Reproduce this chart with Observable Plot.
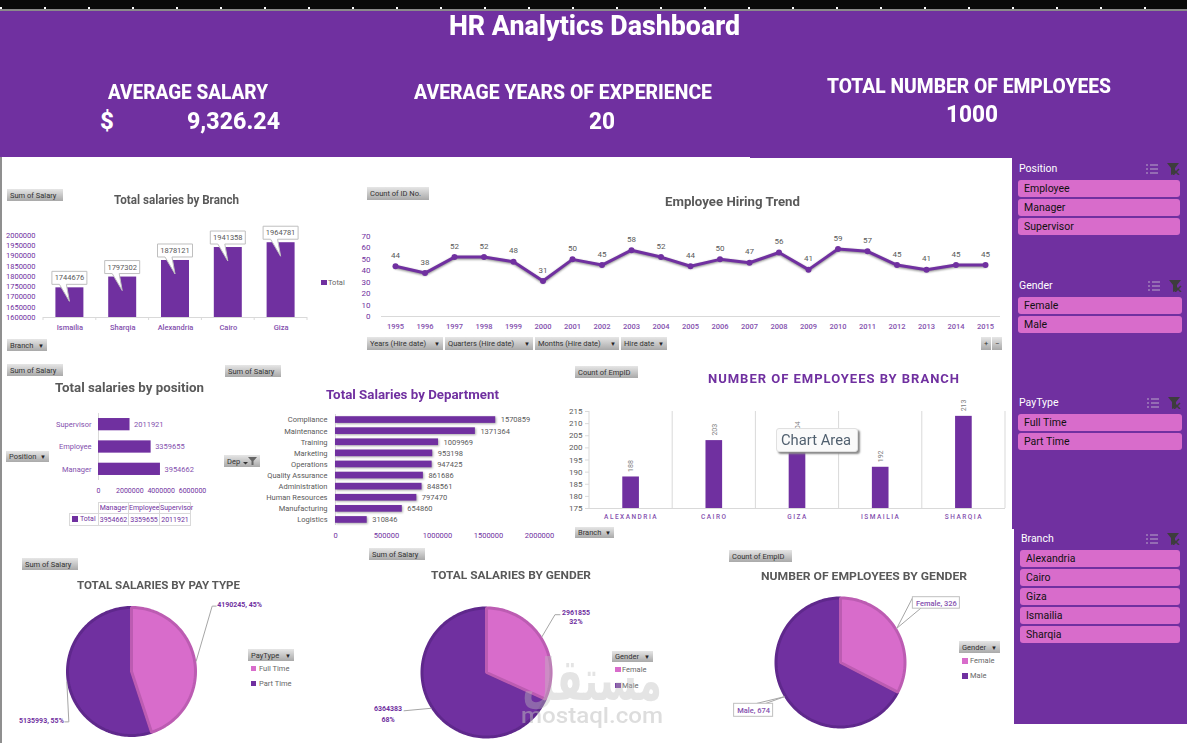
<!DOCTYPE html>
<html><head><meta charset="utf-8">
<script src="https://cdn.jsdelivr.net/npm/d3@7"></script>
<script src="https://cdn.jsdelivr.net/npm/@observablehq/plot@0.6"></script>
<style>
html,body{margin:0;padding:0;background:#fff;}
#page{position:relative;width:1187px;height:743px;overflow:hidden;background:#fff;font-family:Roboto,sans-serif;}
#page>div{position:absolute;}
.t{white-space:nowrap;line-height:1;transform-origin:0 0;}
.btn{background:linear-gradient(#e6e6e6,#a9a9a9);color:#333;font-size:7.5px;display:flex;align-items:center;box-sizing:border-box;padding-left:3px;white-space:nowrap;}
.btn i{font-style:normal;font-size:6px;position:absolute;right:3px;color:#222;}
.sl{background:#D86CCB;border-radius:3px;color:#111;font-size:10.5px;display:flex;align-items:center;box-sizing:border-box;padding-left:6px;}
.cell{border:1px solid #d9d9d9;box-sizing:border-box;color:#7030A0;font-size:7px;text-align:center;white-space:nowrap;overflow:visible;}
svg text{font-family:Roboto,sans-serif;}
</style></head><body><div id="page"></div>
<script>
const PURPLE="#7030A0", PINK="#D86CCB", GRAYT="#595959", AXIS="#d9d9d9", TICKP="#8450AE";
const branchNames=["Ismailia","Sharqia","Alexandria","Cairo","Giza"];
const branchSalaries=[1744676,1797302,1878121,1941358,1964781];
const hireYears=[1995,1996,1997,1998,1999,2000,2001,2002,2003,2004,2005,2006,2007,2008,2009,2010,2011,2012,2013,2014,2015];
const hireCounts=[44,38,52,52,48,31,50,45,58,52,44,50,47,56,41,59,57,45,41,45,45];
const positionNames=["Supervisor","Employee","Manager"];
const positionSalaries=[2011921,3359655,3954662];
const deptNames=["Compliance","Maintenance","Training","Marketing","Operations","Quality Assurance","Administration","Human Resources","Manufacturing","Logistics"];
const deptSalaries=[1570859,1371364,1009969,953198,947425,861686,848561,797470,654860,310846];
const empBranchNames=["Alexandria","Cairo","Giza","Ismailia","Sharqia"];
const empBranchCounts=[188,203,204,192,213];
const payTypes=["Full Time","Part Time"];
const paySalaries=[4190245,5135993];
const genders=["Female","Male"];
const genderSalaries=[2961855,6364383];
const genderCounts=[326,674];
const slicerPosition=["Employee","Manager","Supervisor"];
const slicerGender=["Female","Male"];
const slicerPay=["Full Time","Part Time"];
const slicerBranch=["Alexandria","Cairo","Giza","Ismailia","Sharqia"];

const page=document.getElementById("page");
function box(x0,y0,x1,y1,css=""){const d=document.createElement("div");d.style.cssText=`left:${x0}px;top:${y0}px;width:${x1-x0}px;height:${y1-y0}px;${css}`;page.appendChild(d);return d;}
function T(x,y,s,o={}){
  const d=document.createElement("div");d.className="t";d.textContent=s;
  d.style.fontSize=(o.size||8)+"px";d.style.color=o.color||"#000";d.style.fontWeight=o.weight||400;
  if(o.ls)d.style.letterSpacing=o.ls+"px"; if(o.font)d.style.fontFamily=o.font; if(o.opacity)d.style.opacity=o.opacity;
  page.appendChild(d);
  const r=d.getBoundingClientRect();const k=o.w?o.w/r.width:1;
  const f=o.anchor==="start"?0:o.anchor==="end"?1:0.5;
  d.style.left=(x-r.width*k*f)+"px";d.style.top=(y-r.height/2)+"px";
  if(k!==1)d.style.transform=`scaleX(${k})`;
  return d;
}
function B(x0,y0,x1,y1,s,arrow){const d=box(x0,y0,x1,y1);d.className="btn";d.textContent=s;if(arrow){const i=document.createElement("i");i.textContent="▼";d.appendChild(i);}return d;}
function P(area,pad,opts){
  const [x0,y0,x1,y1]=area,[l,t,r,b]=pad;
  const p=Plot.plot({width:x1-x0+l+r,height:y1-y0+t+b,marginLeft:l,marginTop:t,marginRight:r,marginBottom:b,
    style:{background:"transparent",overflow:"visible",fontFamily:"Roboto,sans-serif",maxWidth:"none"},...opts});
  const d=box(x0-l,y0-t,x1+r,y1+b);d.appendChild(p);return p;
}
function shadow(p,label,f){p.querySelectorAll(`[aria-label="${label}"]`).forEach(e=>e.style.filter=f);}
function separators(cats,top,bottom,color){return (i,{x,y})=>{
  const g=d3.create("svg:g").attr("stroke",color);
  const step=x.bandwidth()+ (cats.length>1?x(cats[1])-x(cats[0])-x.bandwidth():0);
  const off=(step-x.bandwidth())/2;
  [...cats.map(c=>x(c)-off),x(cats[cats.length-1])+x.bandwidth()+off].forEach(v=>g.append("line").attr("x1",v).attr("x2",v).attr("y1",y(top)).attr("y2",y(bottom)));
  return g.node();};}

// ---------- banner ----------
box(0,0,1187,9,"background:repeating-linear-gradient(90deg,#fff 0,#fff 2px,#0a0a0a 2px,#0a0a0a 44px);background-size:100% 2px;background-repeat:no-repeat;background-position:0 7px;background-color:#0a0a0a");
box(0,9,1187,11,"background:#8a8a8a");
box(0,11,750,157,`background:${PURPLE}`);
box(750,11,1187,158,`background:${PURPLE}`);
box(0,157,2,743,"background:#8f8f8f");
T(594,26,"HR Analytics Dashboard",{size:27,color:"#fff",weight:800,w:291});
T(188,92,"AVERAGE SALARY",{size:21,color:"#fff",weight:800,w:160});
T(107,121,"$",{size:24,color:"#fff",weight:800});
T(233.5,121,"9,326.24",{size:24,color:"#fff",weight:800,w:93});
T(563,92,"AVERAGE YEARS OF EXPERIENCE",{size:21,color:"#fff",weight:800,w:298});
T(602,121,"20",{size:24,color:"#fff",weight:800,w:26});
T(969,86,"TOTAL NUMBER OF EMPLOYEES",{size:21,color:"#fff",weight:800,w:284});
T(972,114,"1000",{size:24,color:"#fff",weight:800,w:52});

// ---------- sidebar ----------
box(1012,157,1187,529,`background:${PURPLE}`);
box(1014,529,1187,724,`background:${PURPLE}`);
function icons(x,y){
  const d=box(x,y,x+36,y+12);
  d.innerHTML=`<svg width="36" height="12" style="display:block"><g stroke="#b9a8c8" stroke-width="1"><path d="M5 2H13M5 6H13M5 10H13"/><path d="M1 2h2M1 6h2M1 10h2"/></g><g fill="#3d3d3d"><path d="M22 0h12l-4 5v5l-4 2V5z"/></g><path d="M28 6l6 6M34 6l-6 6" stroke="#3d3d3d" stroke-width="1.5"/></svg>`;
}
function slicer(title,items,hy,x0,x1,y0,tx,ix){
  T(tx,hy+1,title,{size:10.5,color:"#fff",anchor:"start"});
  icons(ix,hy-5);
  items.forEach((s,i)=>{const d=box(x0,y0+i*19,x1,y0+i*19+17);d.className="sl";d.textContent=s;});
}
slicer("Position",slicerPosition,168,1018,1180,180,1019,1145);
slicer("Gender",slicerGender,285,1018,1182,297,1019,1147);
slicer("PayType",slicerPay,402,1018,1182,414,1019,1146);
slicer("Branch",slicerBranch,538,1020,1180,550,1021,1145);

// ---------- salaries by branch ----------
B(7,189,63,201,"Sum of Salary");
B(7,339,47,351,"Branch",true);
T(176,200,"Total salaries by Branch",{size:12,color:GRAYT,weight:700,w:125});
box(321,280,327,285,`background:${PURPLE}`);
T(328,282.5,"Total",{size:7.5,color:"#666",anchor:"start"});
const branchData=branchNames.map((b,i)=>({b,v:branchSalaries[i]}));
P([43,235,307,317],[43,6,6,20],{
  x:{domain:branchNames,paddingInner:.47,paddingOuter:.235,round:false,axis:null},
  y:{domain:[1600000,2000000],axis:null},
  marks:[
    Plot.axisY({ticks:d3.range(1600000,2000001,50000),tickFormat:"d",tickSize:0,tickPadding:8,fontSize:7.5,fill:PURPLE,label:null}),
    Plot.axisX({tickSize:0,tickPadding:7,fontSize:7.5,fontWeight:500,fill:TICKP,label:null}),
    Plot.barY(branchData,{x:"b",y1:1600000,y2:"v",fill:PURPLE}),
    Plot.ruleY([1600000],{stroke:AXIS}),
    (i,{x,y})=>{
      const g=d3.create("svg:g");
      branchData.forEach(d=>{
        const c=x(d.b)+x.bandwidth()/2,t=y(d.v);
        const l=c-17.5,r=c+17.5,b=t-3,u=b-13;
        g.append("path").attr("d",`M${l} ${u}H${r}V${b}H${c-3}L${c} ${t+14}L${c-10} ${b}H${l}Z`).attr("fill","#fff").attr("stroke","#bfbfbf").attr("stroke-width",1);
        g.append("text").attr("x",c).attr("y",b-4).attr("text-anchor","middle").attr("font-size",7.5).attr("fill",GRAYT).text(d.v);
      });
      return g.node();
    },
    (i,{x,y})=>{const g=d3.create("svg:g").attr("stroke",AXIS);const st=x(branchNames[1])-x(branchNames[0]),o=(st-x.bandwidth())/2;
      d3.range(branchNames.length).forEach(k=>g.append("line").attr("x1",x(branchNames[k])-o).attr("x2",x(branchNames[k])-o).attr("y1",y(1600000)).attr("y2",y(1600000)+3));
      const e=x(branchNames[4])+x.bandwidth()+o;g.append("line").attr("x1",e).attr("x2",e).attr("y1",y(1600000)).attr("y2",y(1600000)+3);return g.node();}
  ]});

// ---------- hiring trend ----------
B(367,187,429,200,"Count of ID No.");
T(732,201,"Employee Hiring Trend",{size:13,color:GRAYT,weight:700,w:135});
[[367,443,"Years (Hire date)"],[445,533,"Quarters (Hire date)"],[535,619,"Months (Hire date)"],[621,667,"Hire date"]].forEach(b=>B(b[0],337,b[1],350,b[2],true));
B(981,337,991,350,"+");B(992,337,1002,350,"−");
const hireData=hireYears.map((y,i)=>({y,v:hireCounts[i]}));
const pLine=P([381,236,1000,316],[30,5,5,20],{
  x:{type:"point",domain:hireYears,range:[44,634],padding:0,round:false,axis:null},
  y:{domain:[0,70],axis:null},
  marks:[
    Plot.ruleY([0],{stroke:AXIS}),
    Plot.axisY({ticks:d3.range(0,71,10),tickSize:0,tickPadding:11,fontSize:8,fill:PURPLE,label:null}),
    Plot.axisX({tickSize:0,tickPadding:7,fontSize:7.5,fontWeight:500,fill:TICKP,label:null,tickFormat:"d"}),
    Plot.line(hireData,{x:"y",y:"v",stroke:PURPLE,strokeWidth:3}),
    Plot.dot(hireData,{x:"y",y:"v",fill:PURPLE,r:3}),
    Plot.text(hireData,{x:"y",y:"v",text:"v",dy:-11,fontSize:8,fill:GRAYT})
  ]});
shadow(pLine,"line","drop-shadow(0 1px 1px #888)");

// ---------- salaries by position ----------
B(7,364,63,376,"Sum of Salary");
B(6,451,49,462,"Position",true);
T(129,387,"Total salaries by position",{size:13,color:GRAYT,weight:700,w:149});
const posData=positionNames.map((n,i)=>({n,v:positionSalaries[i]}));
P([98,413,192,480],[90,2,30,20],{
  x:{domain:[0,6000000],axis:null},
  y:{domain:positionNames,paddingInner:.45,paddingOuter:.225,round:false,axis:null},
  marks:[
    Plot.axisY({tickSize:0,tickPadding:7,fontSize:7.5,fill:TICKP,label:null}),
    Plot.axisX({ticks:[0,2000000,4000000,6000000],tickFormat:"d",tickSize:0,tickPadding:8,fontSize:7,fill:PURPLE,label:null}),
    Plot.ruleX([0],{stroke:AXIS}),
    Plot.barX(posData,{x:"v",y:"n",fill:PURPLE}),
    Plot.text(posData,{x:"v",y:"n",text:d=>String(d.v),textAnchor:"start",dx:4,fontSize:7.5,fill:TICKP})
  ]});
const tblNames=[...positionNames].reverse(), tblVals=[...positionSalaries].reverse(), tblX=[98,128,159,190];
tblNames.forEach((n,i)=>{
  const h=box(tblX[i],502,tblX[i+1]+1,514);h.className="cell";h.textContent=n;h.style.lineHeight="11px";
  const v=box(tblX[i],513,tblX[i+1]+1,526);v.className="cell";v.textContent=tblVals[i];v.style.lineHeight="12px";
});
const tot=box(69,513,99,526);tot.className="cell";tot.style.lineHeight="11px";tot.style.textAlign="left";tot.style.paddingLeft="10px";tot.textContent="Total";
box(72,516,78,522,`background:${PURPLE}`);

// ---------- salaries by department ----------
B(225,365,281,377,"Sum of Salary");
const depB=B(224,455,260,467,"Dep");
const depI=document.createElement("span");depI.style.cssText="position:absolute;right:3px;top:2px;";depI.innerHTML=`<svg width="14" height="8" style="display:block"><path d="M0 5h5l-2.5 2.5z" fill="#333"/><path d="M5 0h9l-3.5 4v4h-2V4z" fill="#666"/></svg>`;depB.appendChild(depI);
T(412,394,"Total Salaries by Department",{size:13,color:PURPLE,weight:700,w:173});
const deptData=deptNames.map((n,i)=>({n,v:deptSalaries[i]}));
const pDept=P([335,413.5,539,524.5],[100,2,15,18],{
  x:{domain:[0,2000000],axis:null},
  y:{domain:deptNames,paddingInner:.4,paddingOuter:.2,round:false,axis:null},
  marks:[
    Plot.axisY({tickSize:0,tickPadding:8,fontSize:7.5,fill:GRAYT,label:null}),
    Plot.axisX({ticks:[0,500000,1000000,1500000,2000000],tickFormat:"d",tickSize:0,tickPadding:7,fontSize:7.5,fill:PURPLE,label:null}),
    Plot.ruleX([0],{stroke:AXIS}),
    Plot.barX(deptData,{x:"v",y:"n",fill:PURPLE}),
    Plot.text(deptData,{x:"v",y:"n",text:d=>String(d.v),textAnchor:"start",dx:5,fontSize:7.5,fill:GRAYT})
  ]});
shadow(pDept,"bar","drop-shadow(1px 1px 1px #aaa)");

// ---------- employees by branch ----------
B(575,366,638,378,"Count of EmpID");
B(575,527,614,538,"Branch",true);
T(834,379,"NUMBER OF EMPLOYEES BY BRANCH",{size:13.5,color:PURPLE,weight:700,w:252,ls:1});
const empData=empBranchNames.map((n,i)=>({n,v:empBranchCounts[i]}));
const pEmp=P([589,411,1005,508],[25,20,5,20],{
  x:{domain:empBranchNames,paddingInner:.8,paddingOuter:.4,round:false,axis:null},
  y:{domain:[175,215],axis:null},
  marks:[
    separators(empBranchNames,215,175,AXIS),
    Plot.ruleY([175],{stroke:AXIS}),
    Plot.axisY({ticks:d3.range(175,216,5),tickSize:4,tickPadding:3,stroke:AXIS,fontSize:8,fill:GRAYT,label:null}),
    Plot.axisX({tickSize:0,tickPadding:6,fontSize:6.5,fontWeight:500,fill:TICKP,label:null,tickFormat:d=>d.toUpperCase()}),
    Plot.barY(empData,{x:"n",y1:175,y2:"v",fill:PURPLE}),
    Plot.text(empData,{x:"n",y:"v",text:"v",rotate:-90,textAnchor:"start",dy:-5,fontSize:7,fill:"#808080"})
  ]});
pEmp.querySelectorAll('[aria-label="x-axis tick label"] text').forEach(t=>t.style.letterSpacing="1.5px");
box(776,428,858,452,"background:#fafafa;border:1px solid #e0e0e0;border-radius:3px;box-shadow:2px 2px 2px #8a8a8a;box-sizing:border-box;");
T(816,440,"Chart Area",{size:15,color:"#51606f",w:70});

// ---------- pies ----------
function pie(o){
  const {cx,cy,R,values,colors,edges,left,right,top,bottom,labels}=o;
  const arcs=d3.pie().sort(null)(values);
  const pt=(a,r)=>({x:r*Math.sin(a),y:r*Math.cos(a)});
  const inner=(R-1.5)/R;
  const marks=arcs.map((a,i)=>{
    const pts=[{x:0,y:0}];const n=Math.ceil((a.endAngle-a.startAngle)/0.03);
    d3.range(n+1).forEach(k=>pts.push(pt(a.startAngle+(a.endAngle-a.startAngle)*k/n,inner)));
    return Plot.line(pts,{x:"x",y:"y",fill:colors[i],stroke:edges[i],strokeWidth:3,curve:"linear-closed",strokeLinejoin:"miter"});
  }).reverse();
  arcs.forEach((a,i)=>{
    const rim=pt((a.startAngle+a.endAngle)/2,1);
    const off=([dx,dy])=>({x:rim.x+dx/R,y:rim.y-dy/R});
    const lab=labels[i];
    (lab.leaders||[]).forEach(l=>marks.push(Plot.line([rim,...l.map(off)],{x:"x",y:"y",stroke:"#a6a6a6",strokeWidth:1})));
    if(lab.box){const [x0,y0,x1,y1]=lab.box;const A=off([x0,y0]),Z=off([x1,y1]);
      marks.push(Plot.rect([{x1:A.x,x2:Z.x,y1:A.y,y2:Z.y}],{x1:"x1",x2:"x2",y1:"y1",y2:"y2",fill:"#fff",stroke:"#bfbfbf",inset:0}));}
    lab.texts.forEach(t=>marks.push(Plot.text([off(t.at)],{x:"x",y:"y",text:()=>t.s,textAnchor:t.anchor||"middle",fontSize:t.size||7,fontWeight:t.weight||700,fill:t.color||PURPLE})));
  });
  P([cx-left,cy-top,cx+right,cy+bottom],[0,0,0,0],{
    x:{domain:[-left/R,right/R],axis:null},
    y:{domain:[-bottom/R,top/R],axis:null},
    marks});
}
const pieColors=[PINK,PURPLE],pieEdges=["#BC5CB2","#5F288C"];
B(22,558,78,570,"Sum of Salary");
T(158,585.5,"TOTAL SALARIES BY PAY TYPE",{size:11.5,color:GRAYT,weight:700,w:163});
pie({cx:131,cy:670.5,R:65.5,values:paySalaries,colors:pieColors,edges:pieEdges,left:131,right:150,top:70,bottom:72,
  labels:[
    {leaders:[[[16,-55],[20,-55]]],texts:[{at:[21,-56],s:`${paySalaries[0]}, 45%`,anchor:"start"}]},
    {leaders:[[[2,40],[-2,40]]],texts:[{at:[-3,39],s:`${paySalaries[1]}, 55%`,anchor:"end"}]}
  ]});
B(248,649,294,661,"PayType",true);
box(251,666,256,671,`background:${PINK}`);T(259,669,payTypes[0],{size:7.5,color:"#666",anchor:"start"});
box(251,681,256,686,`background:${PURPLE}`);T(259,684,payTypes[1],{size:7.5,color:"#666",anchor:"start"});

B(369,548,425,560,"Sum of Salary");
T(511,576,"TOTAL SALARIES BY GENDER",{size:11.5,color:GRAYT,weight:700,w:160});
pie({cx:486,cy:671.5,R:66,values:genderSalaries,colors:pieColors,edges:pieEdges,left:130,right:110,top:70,bottom:71,
  labels:[
    {leaders:[[[13,-22],[18,-22]]],texts:[{at:[34,-24],s:`${genderSalaries[0]}`},{at:[34,-14.5],s:"32%"}]},
    {leaders:[[[-27,2.5]]],texts:[{at:[-43,0.5],s:`${genderSalaries[1]}`},{at:[-43,11],s:"68%"}]}
  ]});
B(612,651,653,662,"Gender",true);
box(615,667,621,672,`background:${PINK}`);T(622,670,genders[0],{size:7.5,color:"#666",anchor:"start"});
box(615,683,621,688,`background:${PURPLE}`);T(622,686,genders[1],{size:7.5,color:"#666",anchor:"start"});

B(729,550,792,562,"Count of EmpID");
T(864,577,"NUMBER OF EMPLOYEES BY GENDER",{size:11.5,color:GRAYT,weight:700,w:206});
pie({cx:840,cy:662,R:66,values:genderCounts,colors:pieColors,edges:pieEdges,left:110,right:125,top:70,bottom:70,
  labels:[
    {leaders:[[[16,-31]],[[24,-20]]],box:[16,-31,63,-19.5],texts:[{at:[39.5,-25],s:`${genders[0]}, ${genderCounts[0]}`,weight:500,size:7.5,color:TICKP}]},
    {leaders:[[[-27,6.5]],[[-18,6.5]]],box:[-50,7,-11,20],texts:[{at:[-30.5,13.5],s:`${genders[1]}, ${genderCounts[1]}`,weight:500,size:7.5,color:TICKP}]}
  ]});
B(959,641,1000,653,"Gender",true);
box(962,658,968,664,`background:${PINK}`);T(970,661,genders[0],{size:7.5,color:"#666",anchor:"start"});
box(962,673,968,679,`background:${PURPLE}`);T(970,676,genders[1],{size:7.5,color:"#666",anchor:"start"});

// ---------- watermark ----------
T(592,680,"مستقل",{size:58,color:"#bdbdbd",weight:700,font:"'DejaVu Sans',sans-serif",w:140,opacity:.4});
T(592,716,"mostaql.com",{size:22,color:"#bdbdbd",weight:500,w:142,opacity:.5});
</script></body></html>
